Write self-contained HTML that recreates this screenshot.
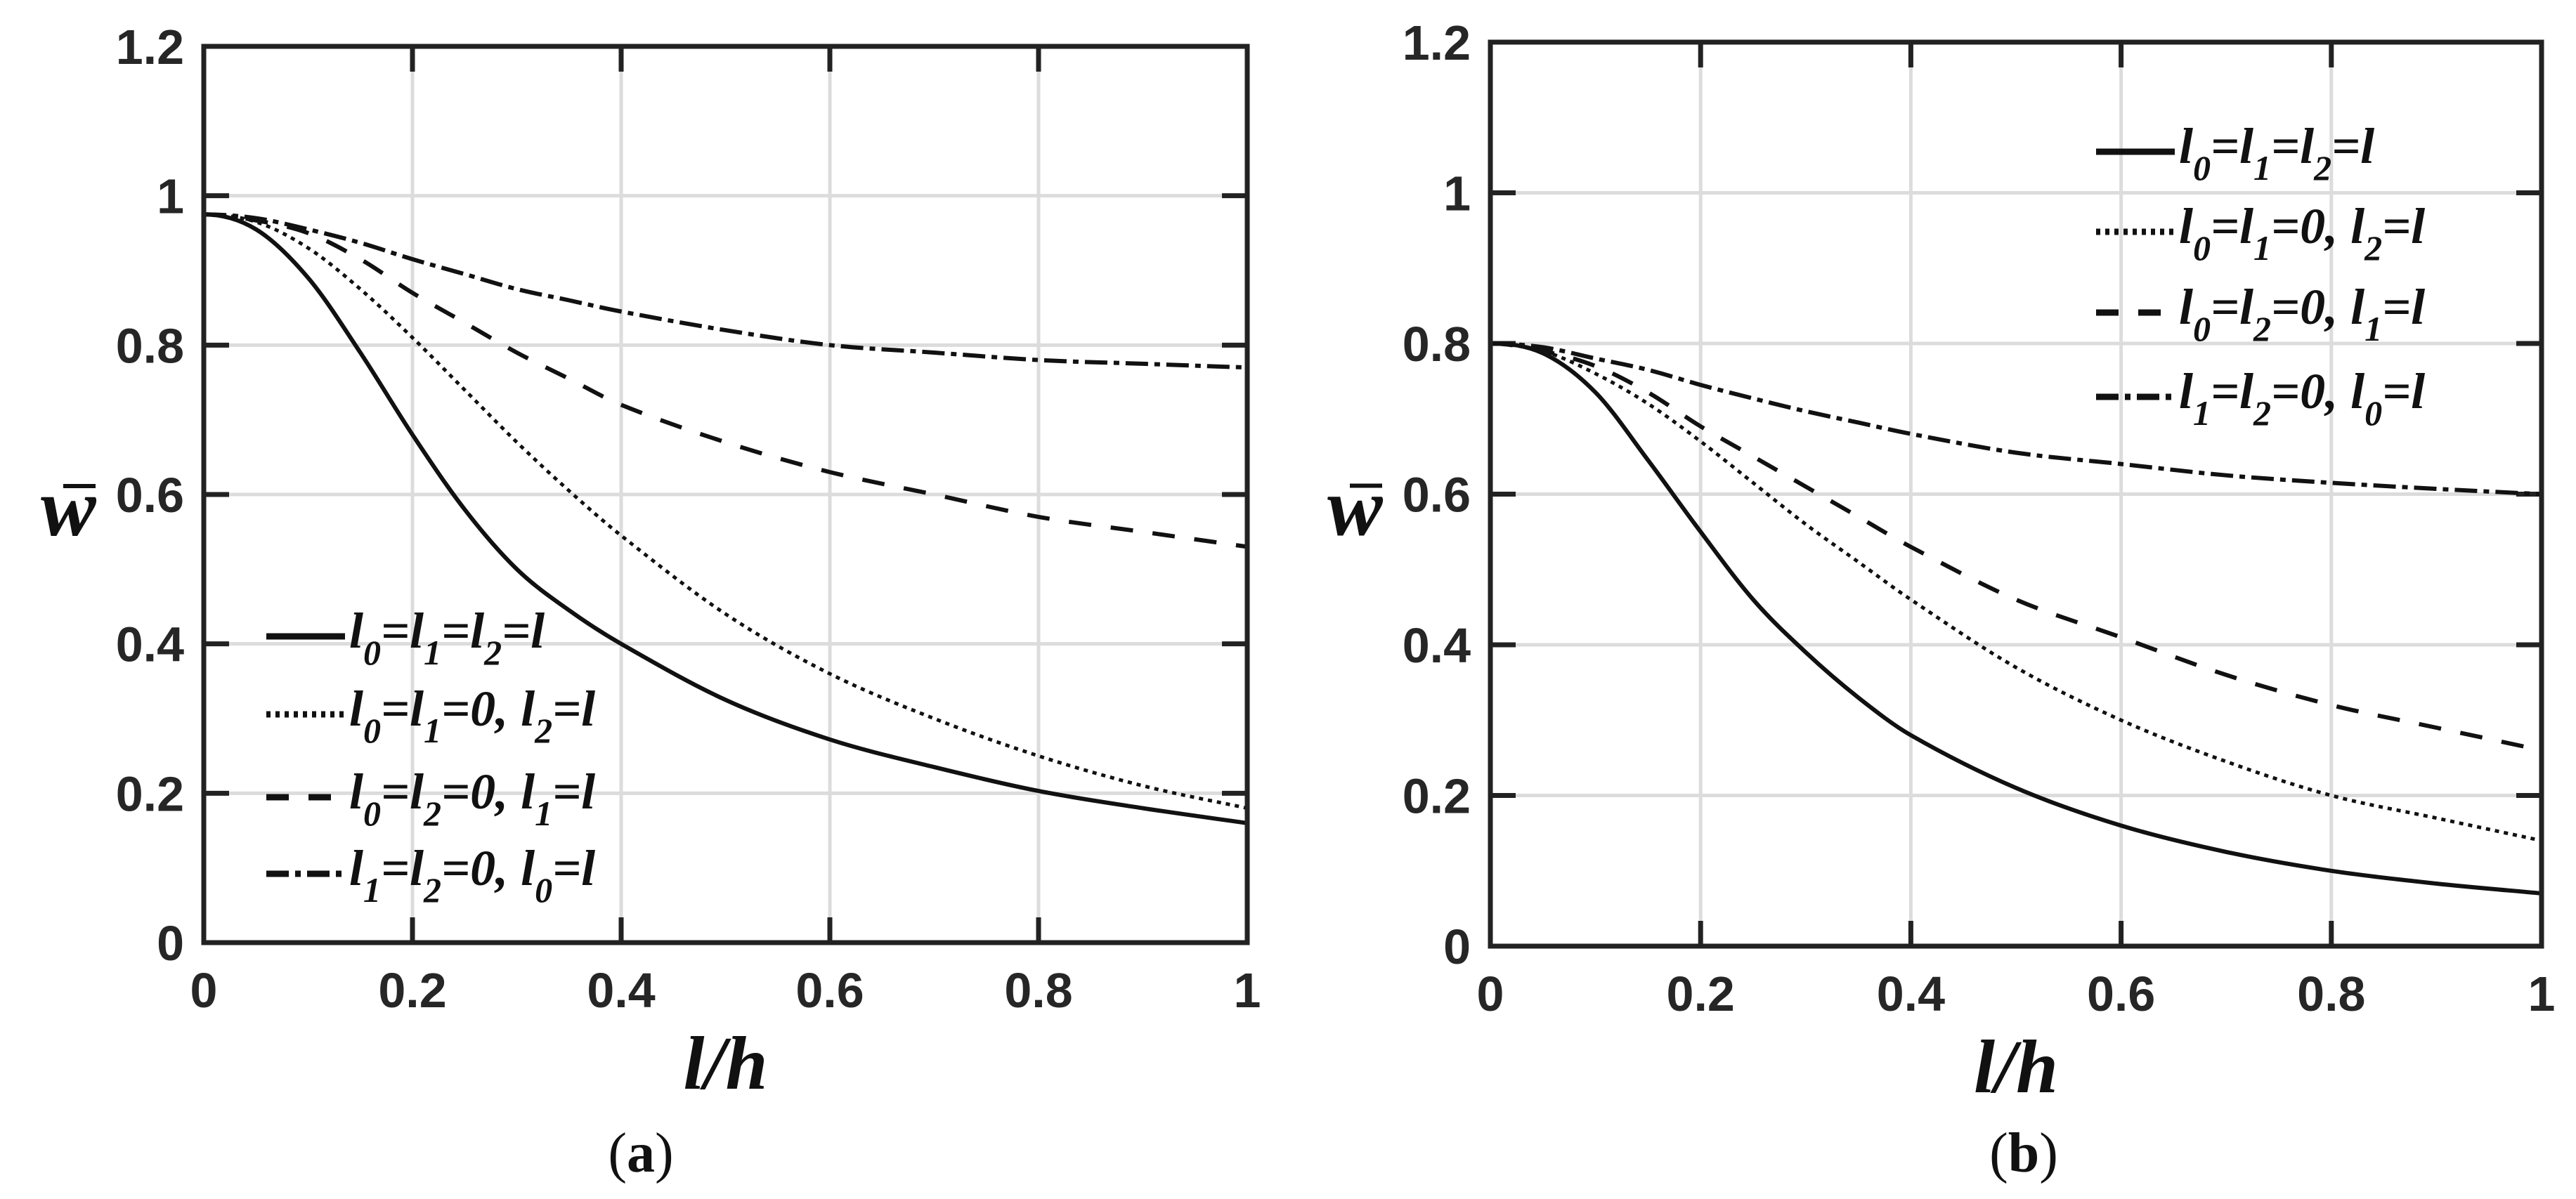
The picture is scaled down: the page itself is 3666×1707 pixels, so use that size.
<!DOCTYPE html>
<html><head><meta charset="utf-8"><style>
html,body{margin:0;padding:0;background:#fff;}
svg{display:block;}
.tick{font-family:"Liberation Sans",Arial,sans-serif;font-weight:bold;font-size:70px;fill:#262626;}
.ser{font-family:"Liberation Serif","Times New Roman",serif;font-weight:bold;font-style:italic;fill:#111;}
</style></head><body>
<svg id="fig" xmlns="http://www.w3.org/2000/svg" width="3666" height="1707" viewBox="0 0 3666 1707"></svg>
<script>
const xTicks=[0,0.2,0.4,0.6,0.8,1];
const xTickLabels=["0","0.2","0.4","0.6","0.8","1"];
const yTicks=[0,0.2,0.4,0.6,0.8,1,1.2];
const yTickLabels=["0","0.2","0.4","0.6","0.8","1","1.2"];
const xs=[0,0.05,0.1,0.15,0.2,0.25,0.3,0.35,0.4,0.5,0.6,0.7,0.8,0.9,1.0];
const seriesNames=["l0=l1=l2=l","l0=l1=0, l2=l","l0=l2=0, l1=l","l1=l2=0, l0=l"];
// panel (a)
const aSolid=[0.975,0.955,0.89,0.79,0.68,0.58,0.50,0.445,0.40,0.325,0.272,0.235,0.203,0.18,0.16];
const aDotted=[0.975,0.965,0.93,0.875,0.81,0.74,0.67,0.605,0.545,0.44,0.36,0.30,0.25,0.21,0.18];
const aDashed=[0.975,0.967,0.95,0.915,0.87,0.83,0.79,0.755,0.72,0.67,0.63,0.60,0.57,0.55,0.53];
const aDashDot=[0.975,0.97,0.955,0.937,0.915,0.895,0.875,0.86,0.845,0.82,0.80,0.79,0.78,0.775,0.77];
// panel (b)
const bSolid=[0.80,0.787,0.735,0.645,0.55,0.46,0.39,0.33,0.28,0.21,0.16,0.125,0.10,0.083,0.07];
const bDotted=[0.80,0.79,0.76,0.72,0.67,0.615,0.56,0.51,0.46,0.37,0.30,0.245,0.20,0.17,0.14];
const bDashed=[0.80,0.79,0.77,0.735,0.69,0.65,0.61,0.57,0.53,0.46,0.41,0.36,0.32,0.29,0.26];
const bDashDot=[0.80,0.795,0.78,0.765,0.745,0.727,0.71,0.695,0.68,0.655,0.64,0.625,0.615,0.607,0.60];

const NS="http://www.w3.org/2000/svg";
const svg=document.getElementById('fig');
function mk(tag,attrs,parent){const e=document.createElementNS(NS,tag);for(const k in attrs)e.setAttribute(k,attrs[k]);(parent||svg).appendChild(e);return e;}
const dashes=["none","6 7","32 28","32 9 8 9"];

function hermite(pts){
  const n=pts.length,m=[];
  for(let i=0;i<n;i++){
    const a=pts[Math.max(0,i-1)],b=pts[Math.min(n-1,i+1)];
    m.push((b[1]-a[1])/(b[0]-a[0]));
  }
  m[0]=0;
  let d="M"+pts[0][0].toFixed(1)+","+pts[0][1].toFixed(1);
  for(let i=0;i<n-1;i++){
    const p1=pts[i],p2=pts[i+1],dx=(p2[0]-p1[0])/3;
    d+="C"+(p1[0]+dx).toFixed(1)+","+(p1[1]+m[i]*dx).toFixed(1)+" "+(p2[0]-dx).toFixed(1)+","+(p2[1]-m[i+1]*dx).toFixed(1)+" "+p2[0].toFixed(1)+","+p2[1].toFixed(1);
  }
  return d;
}
function legendText(g,x,y,parts){
  const t=mk('text',{x:x,y:y,'class':'ser','font-size':72},g);
  parts.forEach(p=>{
    const s=mk('tspan',{},t);
    if(p[1]){s.setAttribute('font-size',50);s.setAttribute('dy',24);}
    else if(p[2]){s.setAttribute('dy',-24);}
    s.textContent=p[0];
  });
}
const legendParts=[
 [["l"],["0",1],["=l",0,1],["1",1],["=l",0,1],["2",1],["=l",0,1]],
 [["l"],["0",1],["=l",0,1],["1",1],["=0, l",0,1],["2",1],["=l",0,1]],
 [["l"],["0",1],["=l",0,1],["2",1],["=0, l",0,1],["1",1],["=l",0,1]],
 [["l"],["1",1],["=l",0,1],["2",1],["=0, l",0,1],["0",1],["=l",0,1]]
];

function panel(id,L,R,T,B,data,legX,legRows,label,labX){
  const g=mk('g',{});
  
  
  const X=v=>L+(R-L)*v, Y=v=>B-(B-T)*v/1.2;
  xTicks.forEach((v,i)=>{if(i>0&&i<xTicks.length-1){const l=mk('line',{x1:X(v),x2:X(v),y1:T,y2:B,stroke:'#dcdcdc','stroke-width':5},g);}});
  yTicks.forEach((v,i)=>{if(i>0&&i<yTicks.length-1){const l=mk('line',{x1:L,x2:R,y1:Y(v),y2:Y(v),stroke:'#dcdcdc','stroke-width':5},g);}});
  xTicks.forEach((v,i)=>{
    mk('line',{x1:X(v),x2:X(v),y1:B,y2:B-36,stroke:'#222','stroke-width':7},g);
    mk('line',{x1:X(v),x2:X(v),y1:T,y2:T+36,stroke:'#222','stroke-width':7},g);
    const t=mk('text',{x:X(v),y:B+92,'text-anchor':'middle','class':'tick'},g);
    
    
    t.textContent=xTickLabels[i];
  });
  yTicks.forEach((v,i)=>{
    mk('line',{x1:L,x2:L+36,y1:Y(v),y2:Y(v),stroke:'#222','stroke-width':7},g);
    mk('line',{x1:R,x2:R-36,y1:Y(v),y2:Y(v),stroke:'#222','stroke-width':7},g);
    const t=mk('text',{x:L-28,y:Y(v)+25,'text-anchor':'end','class':'tick'},g);
    
    
    t.textContent=yTickLabels[i];
  });
  data.forEach((ys,si)=>{
    const pts=xs.map((x,i)=>[X(x),Y(ys[i])]);
    const p=mk('path',{d:hermite(pts),fill:'none',stroke:'#111','stroke-width':si==1?5:6,'stroke-dasharray':dashes[si]},g);
    
    
  });
  const f=mk('rect',{x:L,y:T,width:R-L,height:B-T,fill:'none',stroke:'#222','stroke-width':7},g);
  
  
  legRows.forEach((ry,si)=>{
    const lg=mk('g',{},g);
    
    
    mk('line',{x1:legX,x2:legX+112,y1:ry,y2:ry,stroke:'#111','stroke-width':9,'stroke-dasharray':dashes[si]},lg);
    legendText(lg,legX+118,ry+16,legendParts[si]);
  });
  const yt=mk('text',{x:L-232,y:(T+B)/2+58,'class':'ser','font-size':118},g);
  
  
  yt.textContent='w';
  const bar=mk('line',{x1:L-232+32,x2:L-232+78,y1:(T+B)/2-12,y2:(T+B)/2-12,stroke:'#111','stroke-width':6},g);
  
  
  const xt=mk('text',{x:(L+R)/2,y:B+208,'text-anchor':'middle','class':'ser','font-size':108},g);
  
  
  xt.textContent='l/h';
  const cap=mk('text',{x:labX,y:1668,'text-anchor':'middle','font-family':'"Liberation Serif",serif','font-size':80,fill:'#111'},g);
  
  
  const s1=mk('tspan',{},cap);s1.textContent='(';
  const s2=mk('tspan',{'font-weight':'bold'},cap);s2.textContent=label;
  const s3=mk('tspan',{},cap);s3.textContent=')';
}
panel('a',290,1775,66,1342,[aSolid,aDotted,aDashed,aDashDot],379,[906,1017,1135,1244],'a',912);
panel('b',2121,3617,60,1347,[bSolid,bDotted,bDashed,bDashDot],2983,[216,330,445,565],'b',2880);
</script>
</body></html>
